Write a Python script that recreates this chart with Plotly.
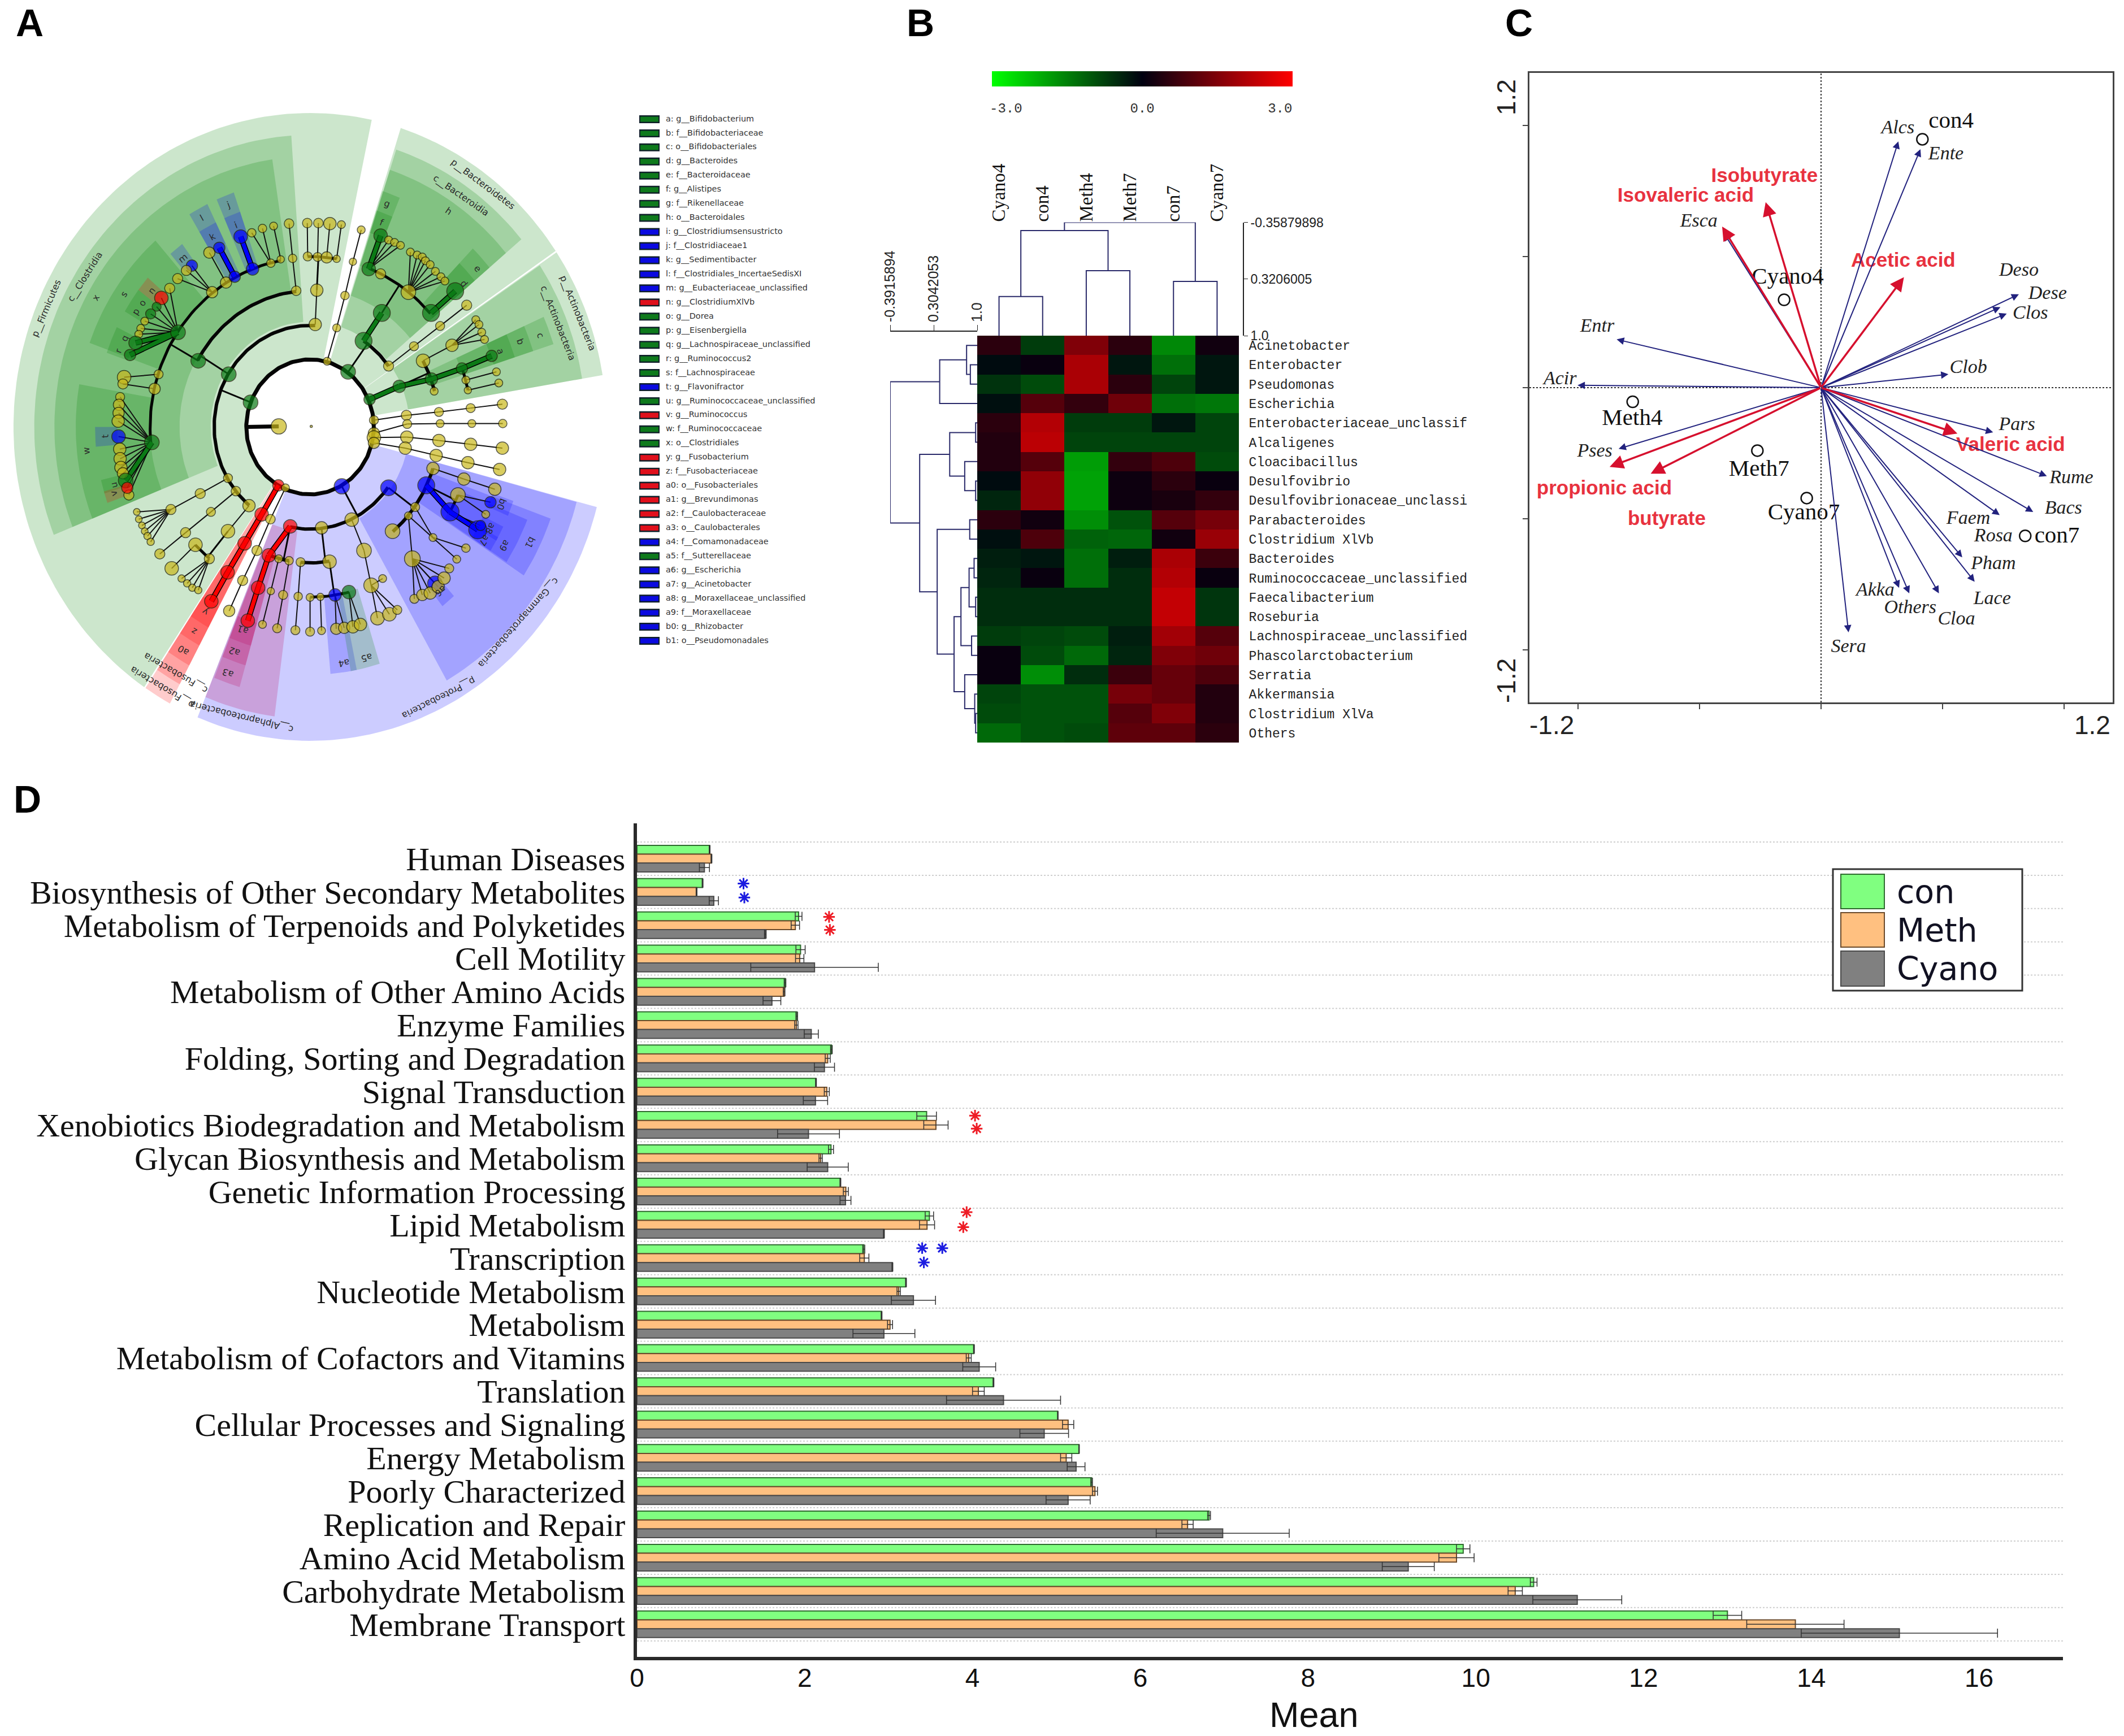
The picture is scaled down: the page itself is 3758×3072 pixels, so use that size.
import math
import plotly.graph_objects as go

W, H = 3758, 3072
SERIF, SANS, MONO, DEJAVU = "Liberation Serif", "Liberation Sans", "Liberation Mono", "DejaVu Sans"

# ---------- Panel D data ----------
pathways = ["Human Diseases", "Biosynthesis of Other Secondary Metabolites", "Metabolism of Terpenoids and Polyketides",
            "Cell Motility", "Metabolism of Other Amino Acids", "Enzyme Families", "Folding, Sorting and Degradation",
            "Signal Transduction", "Xenobiotics Biodegradation and Metabolism", "Glycan Biosynthesis and Metabolism",
            "Genetic Information Processing", "Lipid Metabolism", "Transcription", "Nucleotide Metabolism", "Metabolism",
            "Metabolism of Cofactors and Vitamins", "Translation", "Cellular Processes and Signaling", "Energy Metabolism",
            "Poorly Characterized", "Replication and Repair", "Amino Acid Metabolism", "Carbohydrate Metabolism",
            "Membrane Transport"]
con_mean = [.866, .782, 1.927, 1.95, 1.765, 1.905, 2.318, 2.134, 3.453, 2.313, 2.425, 3.486, 2.704, 3.207, 2.916, 4.017,
            4.25, 5.017, 5.27, 5.42, 6.82, 9.85, 10.69, 13.0]
meth_mean = [.888, .71, 1.888, 1.94, 1.754, 1.9, 2.274, 2.263, 3.564, 2.19, 2.49, 3.458, 2.71, 3.12, 3.017, 3.955,
             4.07, 5.14, 5.117, 5.46, 6.564, 9.77, 10.47, 13.81]
cyano_mean = [.804, .916, 1.53, 2.117, 1.609, 2.078, 2.235, 2.128, 2.045, 2.274, 2.486, 2.944, 3.045, 3.296, 2.944, 4.08,
              4.37, 4.855, 5.235, 5.14, 6.983, 9.195, 11.21, 15.05]
con_err = [.005, .005, .04, .055, .01, .01, .01, .005, .117, .03, .005, .05, .012, .005, .005, .005,
           .005, .003, .003, .01, .017, .08, .04, .17]
meth_err = [.005, .005, .05, .05, .01, .02, .03, .03, .145, .02, .03, .09, .055, .02, .03, .03,
            .07, .067, .067, .03, .067, .21, .085, .58]
cyano_err = [.06, .055, .01, .76, .106, .084, .12, .145, .369, .245, .065, .005, .005, .263, .369, .196,
             .68, .29, .106, .263, .793, .31, .53, 1.17]
star_x = [1.27, 1.28, 2.29, 2.30, 4.03, 4.05, 3.93, 3.89, 3.40, 3.64, 3.42]
star_y = [.75, 1.17, 1.75, 2.14, 7.72, 8.11, 10.62, 11.07, 11.70, 11.70, 12.13]
star_c = ["#1C1CE0", "#1C1CE0", "#EE1C25", "#EE1C25", "#EE1C25", "#EE1C25", "#EE1C25", "#EE1C25", "#1C1CE0", "#1C1CE0", "#1C1CE0"]
group_names = ["con", "Meth", "Cyano"]
group_fill = ["#80FF80", "#FFC080", "#808080"]
group_edge = ["#2F6B2F", "#6B4A2A", "#4A4A4A"]

# ---------- Panel B data ----------
samples = ["Cyano4", "con4", "Meth4", "Meth7", "con7", "Cyano7"]
genera = ["Acinetobacter", "Enterobacter", "Pseudomonas", "Escherichia", "Enterobacteriaceae_unclassif", "Alcaligenes",
          "Cloacibacillus", "Desulfovibrio", "Desulfovibrionaceae_unclassi", "Parabacteroides", "Clostridium XlVb",
          "Bacteroides", "Ruminococcaceae_unclassified", "Faecalibacterium", "Roseburia", "Lachnospiraceae_unclassified",
          "Phascolarctobacterium", "Serratia", "Akkermansia", "Clostridium XlVa", "Others"]
heat = [[.5, -.7, 1.5, .5, -1.6, .2], [-.13, .1, 2.0, -.26, -1.3, -.26], [-.6, -.88, 2.0, .5, -.8, -.26],
        [-.18, 1.0, .6, 1.3, -1.3, -1.4], [.5, 2.1, -.7, -.7, -.26, -.8], [.4, 2.2, -.8, -.8, -.8, -.8],
        [.4, 1.0, -1.85, .6, .9, -.88], [-.13, 1.7, -1.9, .15, .5, .1], [-.44, 1.7, -1.9, .15, .3, .6],
        [.5, .2, -1.67, -.97, 1.0, 1.4], [-.18, .9, -1.15, -1.2, .2, 1.8], [-.35, -.26, -1.3, -.35, 2.0, .7],
        [-.44, .1, -1.3, -.53, 2.1, .1], [-.53, -.53, -.53, -.53, 2.3, -.62], [-.53, -.53, -.53, -.53, 2.3, -.62],
        [-.7, -.8, -.88, -.35, 1.9, 1.0], [.1, -.88, -1.23, -.44, 1.5, 1.3], [.1, -1.67, -.53, .7, 1.2, .9],
        [-.8, -.97, -.97, 1.4, 1.2, .4], [-.88, -.97, -.97, 1.0, 1.5, .4], [-1.23, -.97, -.88, 1.1, 1.1, .5]]
col_merge_a = [0, 2, 4, 6, 9]
col_merge_b = [1, 3, 5, 7, 8]
col_merge_h = [.53, .22, .35, -.26, -.35879898]
row_merge_a = [1, 0, 3, 4, 7, 6, 24, 9, 11, 13, 29, 15, 31, 19, 18, 17, 33, 28, 27, 23]
row_merge_b = [2, 21, 22, 5, 8, 25, 26, 10, 12, 14, 30, 16, 32, 20, 34, 35, 36, 37, 38, 39]
row_merge_h = [.89, .83, .40, .975, .975, .80, .56, .88, .95, .975, .87, .91, .74, .975, .96, .80, .63, .36, .08, -.3915894]

# ---------- Panel C data ----------
species = ["Alcs", "Ente", "Deso", "Dese", "Clos", "Clob", "Pars", "Rume", "Bacs", "Faem", "Pham", "Lace", "Cloa",
           "Others", "Akka", "Sera", "Pses", "Acir", "Entr", "Esca"]
species_x = [.318, .409, .814, .738, .764, .524, .708, .929, .873, .735, .581, .632, .485, .363, .321, .113, -.833, -1.002, -.841, -.399]
species_y = [.939, .909, .356, .307, .282, .051, -.17, -.337, -.474, -.486, -.647, -.74, -.784, -.784, -.763, -.933, -.233, .009, .184, .588]
species_label = species + ["Rosa"]
species_label_x = [.316, .514, .814, .932, .861, .606, .806, 1.03, .997, .606, .709, .704, .557, .367, .223, .113, -.931, -1.074, -.921, -.503, .709]
species_label_y = [.988, .888, .444, .356, .282, .075, -.144, -.346, -.463, -.5, -.674, -.807, -.884, -.842, -.775, -.991, -.244, .032, .232, .632, -.568]
acids = ["Isobutyrate", "Isovaleric acid", "Acetic acid", "Valeric acid", "propionic acid", "butyrate"]
acid_x = [-.228, -.407, .341, .561, -.87, -.701]
acid_y = [.707, .614, .421, -.175, -.302, -.328]
acid_label_x = [-.233, -.557, .338, .78, -.892, -.635]
acid_label_y = [.802, .728, .479, -.223, -.389, -.504]
sites = ["con4", "Cyano4", "Meth4", "Meth7", "Cyano7", "con7"]
site_x = [.417, -.152, -.775, -.262, -.059, .84]
site_y = [.947, .335, -.054, -.24, -.421, -.565]
site_label_x = [.535, -.137, -.777, -.255, -.071, .971]
site_label_y = [1.014, .418, -.121, -.314, -.479, -.568]

# ---------- Panel A data ----------
legend_names = ["a: g__Bifidobacterium", "b: f__Bifidobacteriaceae", "c: o__Bifidobacteriales", "d: g__Bacteroides",
                "e: f__Bacteroidaceae", "f: g__Alistipes", "g: f__Rikenellaceae", "h: o__Bacteroidales",
                "i: g__Clostridiumsensustricto", "j: f__Clostridiaceae1", "k: g__Sedimentibacter",
                "l: f__Clostridiales_IncertaeSedisXI", "m: g__Eubacteriaceae_unclassified", "n: g__ClostridiumXlVb",
                "o: g__Dorea", "p: g__Eisenbergiella", "q: g__Lachnospiraceae_unclassified", "r: g__Ruminococcus2",
                "s: f__Lachnospiraceae", "t: g__Flavonifractor", "u: g__Ruminococcaceae_unclassified", "v: g__Ruminococcus",
                "w: f__Ruminococcaceae", "x: o__Clostridiales", "y: g__Fusobacterium", "z: f__Fusobacteriaceae",
                "a0: o__Fusobacteriales", "a1: g__Brevundimonas", "a2: f__Caulobacteraceae", "a3: o__Caulobacterales",
                "a4: f__Comamonadaceae", "a5: f__Sutterellaceae", "a6: g__Escherichia", "a7: g__Acinetobacter",
                "a8: g__Moraxellaceae_unclassified", "a9: f__Moraxellaceae", "b0: g__Rhizobacter", "b1: o__Pseudomonadales"]
legend_kind = list("GGGGGGGGBBBBBRGGGGGBGRGGRRRRRRBGBBBBBB")

clade_start = [78, 34.1, 9.5, 247.7, 236.3,
               93.9, 40, 9.5, 299.7, 247.7, 236.3,
               98.5, 40, 17.8, 236.3, 248, 326.7,
               170.1, 131.3, 109, 116, 17.8, 67.5, 40, 236.3, 248, 275, 280, 327,
               180, 109, 116, 126.5, 139, 143, 146.5, 154, 157.5, 193.5, 196.5, 17.8, 67.5, 40, 236.3, 248, 337, 308, 327, 330]
clade_end = [236, 72.2, 33.8, 345.2, 241.8,
             201.7, 71.8, 33.6, 345.1, 262.6, 241.8,
             201.7, 71.8, 24, 241.8, 254, 340.2,
             201.7, 160.2, 113.5, 121, 24, 72, 46, 241.8, 254, 281.5, 287.3, 338,
             185, 113.5, 121, 130.5, 143, 146.5, 149.5, 157.5, 161, 197, 199.5, 24, 72, 46, 241.8, 254, 341, 312, 331, 334]
clade_rank = ["p"] * 5 + ["c"] * 6 + ["o"] * 6 + ["f"] * 12 + ["g"] * 20
clade_kind = list("GGGBR" "GGGBPR" "GGGRPB" "GGBBGGGRPBGB" "BBBBRGGGGGRGGGRPBBBB")
rank_inner = {"p": .22, "c": .335, "o": .44, "f": .54, "g": .65}
rank_outer = {"p": 1.0, "c": .93, "o": .862, "f": .79, "g": .725}

clade_text = ["a", "b", "c", "d", "e", "f", "g", "h", "i", "j", "k", "l", "m", "n", "o", "p", "q", "r", "s", "t", "u", "v", "w", "x",
              "y", "z", "a0", "a1", "a2", "a3", "a4", "a5", "a6", "a7", "a8", "a9", "b0", "b1",
              "p__Firmicutes", "c__Clostridia", "p__Bacteroidetes", "c__Bacteroidia", "p__Actinobacteria", "c__Actinobacteria",
              "c__Gammaproteobacteria", "p__Proteobacteria", "c__Alphaproteobacteria", "p__Fusobacteria", "c__Fusobacteria"]
clade_text_angle = [20.6, 21, 20.6, 41.4, 41.7, 69.7, 69.9, 55.8, 111.3, 111.3, 118.4, 118.7, 128.5, 140.9, 145, 148, 155.7, 159.4, 146, 182.5, 195.6, 197.8, 185.8, 150.3,
                    239, 239, 239, 250.6, 250.4, 250.6, -81.4, -75.5, -49.9, -31.6, -28, -29.9, -20.9, -26.4,
                    157, 147.8, 53, 55.4, 21.9, 21.6, -41.6, -63.3, 256, 239, 240]
clade_text_r = [.686, .76, .83, .691, .757, .694, .758, .832, .69, .76, .69, .759, .687, .689, .689, .693, .685, .69, .757, .692, .687, .695, .759, .831,
                .687, .76, .83, .685, .76, .832, .76, .76, .684, .69, .689, .756, .691, .829,
                .966, .896, .968, .896, .972, .899, .939, .965, .952, .967, .904]

# name, parent, x, y, diameter, kind (tree units)
tree_nodes = [
    ("root", None, 703, 883, 27, "Y"), ("mid", None, 785, 883, 4, "Y"),
    ("firm", "root", 632, 833, 26, "G"), ("p3", "root", 825, 748, 14, "Y"), ("bact", "root", 878, 770, 26, "G"),
    ("acti", "root", 932, 827, 20, "G"), ("u1", "root", 943, 870, 16, "Y"), ("u2", "root", 943, 897, 20, "Y"),
    ("u3", "root", 943, 906, 24, "Y"), ("u4", "root", 943, 917, 20, "Y"), ("prot", "root", 862, 1007, 27, "B"),
    ("fuso", "root", 702, 1005, 20, "R"), ("p11", "root", 720, 1010, 14, "Y"),
    # unclassified chains on the right
    ("u1a", "u1", 1025, 860, 18, "Y"), ("u1b", "u1a", 1107, 853, 16, "Y"), ("u1c", "u1b", 1187, 845, 16, "Y"), (None, "u1c", 1267, 837, 18, "Y"),
    ("u2a", "u2", 1027, 878, 16, "Y"), ("u2b", "u2a", 1110, 877, 14, "Y"), ("u2c", "u2b", 1190, 877, 14, "Y"), (None, "u2c", 1268, 877, 15, "Y"),
    ("u3a", "u3", 1026, 905, 22, "Y"), ("u3b", "u3a", 1107, 912, 22, "Y"), ("u3c", "u3b", 1187, 920, 22, "Y"), (None, "u3c", 1267, 928, 22, "Y"),
    ("u4a", "u4", 1022, 928, 22, "Y"), ("u4b", "u4a", 1100, 943, 22, "Y"), ("u4c", "u4b", 1180, 958, 22, "Y"), (None, "u4c", 1260, 972, 22, "Y"),
    # narrow chain at the top
    ("p3a", "p3", 849, 679, 14, "Y"), ("p3b", "p3a", 870, 612, 15, "Y"), ("p3c", "p3b", 890, 542, 13, "Y"), (None, "p3c", 911, 476, 14, "Y"),
    # Firmicutes
    ("f1", "firm", 795, 672, 22, "Y"), ("f2", "firm", 577, 775, 26, "G"), ("f3", "firm", 575, 990, 16, "Y"), ("f4", "firm", 595, 1017, 17, "Y"), ("f5", "firm", 628, 1047, 22, "Y"),
    ("f1a", "f1", 799, 601, 22, "Y"), ("f1b", "f1a", 776, 531, 16, "Y"), ("f1c", "f1a", 801, 532, 16, "Y"), ("f1d", "f1a", 824, 533, 20, "Y"), ("f1e", "f1a", 849, 536, 13, "Y"),
    (None, "f1b", 775, 462, 17, "Y"), (None, "f1c", 803, 462, 17, "Y"), (None, "f1d", 832, 463, 22, "Y"), (None, "f1e", 861, 465, 14, "Y"),
    ("f2a", "f2", 747, 602, 17, "Y"), ("clos", "f2", 500, 747, 26, "G"), ("f2b", "f2a", 738, 535, 15, "Y"), (None, "f2b", 729, 463, 17, "Y"),
    ("l1", "clos", 535, 605, 20, "Y"), ("lach", "clos", 449, 688, 26, "G"), ("l2", "clos", 400, 775, 16, "Y"), ("l3", "clos", 390, 805, 20, "Y"), ("rumi", "clos", 383, 916, 26, "G"),
    ("l4", "clos", 570, 585, 20, "Y"), ("l5", "clos", 592, 573, 20, "B"), ("l6", "clos", 637, 557, 22, "B"), ("l7", "clos", 683, 545, 15, "Y"), ("l8", "clos", 708, 537, 13, "Y"),
    (None, "l4", 528, 523, 20, "Y"), ("k", "l5", 553, 513, 20, "B"), ("i", "l6", 607, 490, 24, "B"), (None, "l7", 635, 482, 15, "Y"), (None, "l7", 662, 473, 15, "Y"), (None, "l8", 690, 468, 14, "Y"),
    (None, "l1", 484, 550, 20, "B"), (None, "l1", 470, 560, 18, "Y"), (None, "l1", 448, 577, 18, "Y"),
    (None, "lach", 428, 597, 18, "Y"), (None, "lach", 407, 617, 24, "R"), (None, "lach", 395, 635, 16, "G"), (None, "lach", 380, 650, 18, "G"),
    (None, "lach", 365, 665, 14, "Y"), (None, "lach", 355, 680, 14, "Y"), (None, "lach", 350, 692, 14, "Y"), ("q", "lach", 342, 710, 24, "G"), ("r", "lach", 328, 735, 20, "G"),
    (None, "l2", 313, 781, 24, "Y"), (None, "l3", 310, 795, 18, "Y"),
    (None, "rumi", 303, 822, 16, "Y"), (None, "rumi", 300, 838, 20, "Y"), (None, "rumi", 299, 855, 20, "Y"), (None, "rumi", 298, 872, 22, "Y"), (None, "rumi", 299, 904, 24, "B"),
    (None, "rumi", 302, 930, 22, "Y"), (None, "rumi", 303, 950, 22, "Y"), (None, "rumi", 305, 968, 22, "Y"), (None, "rumi", 310, 980, 20, "Y"), ("u", "rumi", 317, 995, 26, "G"),
    (None, "rumi", 325, 1025, 18, "Y"), (None, "rumi", 321, 1010, 20, "R"),
    ("f3a", "f3", 505, 1022, 18, "Y"), ("f3b", "f3a", 431, 1055, 18, "Y"),
    (None, "f3b", 345, 1060, 12, "Y"), (None, "f3b", 350, 1075, 12, "Y"), (None, "f3b", 358, 1088, 12, "Y"), (None, "f3b", 365, 1100, 12, "Y"), (None, "f3b", 372, 1110, 13, "Y"), (None, "f3b", 380, 1122, 13, "Y"),
    ("f4a", "f4", 532, 1060, 16, "Y"), ("f4b", "f4a", 468, 1103, 18, "Y"), (None, "f4b", 403, 1147, 18, "Y"),
    ("f5a", "f5", 575, 1100, 24, "Y"), ("f5b", "f5a", 493, 1128, 24, "Y"), (None, "f5b", 433, 1177, 24, "Y"), ("f5c", "f5a", 528, 1157, 18, "Y"),
    (None, "f5c", 458, 1198, 13, "Y"), (None, "f5c", 472, 1208, 13, "Y"), (None, "f5c", 485, 1217, 13, "Y"), (None, "f5c", 500, 1222, 13, "Y"),
    # Fusobacteria
    ("r1", "fuso", 660, 1065, 24, "R"), ("r2", "r1", 617, 1125, 24, "R"), ("r3", "r2", 574, 1185, 24, "R"), ("r4", "r3", 533, 1245, 24, "R"),
    ("p11a", "p11", 682, 1075, 17, "Y"), ("p11b", "p11a", 648, 1140, 18, "Y"), ("p11c", "p11b", 612, 1202, 18, "Y"), (None, "p11c", 578, 1265, 20, "Y"),
    # Proteobacteria
    ("alph", "prot", 732, 1090, 24, "R"), ("pb", "prot", 811, 1093, 22, "Y"), ("pc", "prot", 887, 1076, 24, "Y"), ("gamm", "prot", 980, 1010, 28, "B"),
    ("al1", "alph", 678, 1150, 24, "R"), ("al2", "alph", 703, 1157, 14, "Y"), ("al3", "alph", 729, 1161, 15, "Y"),
    ("al1a", "al1", 651, 1217, 24, "R"), ("al1b", "al1a", 625, 1285, 24, "R"), ("al2a", "al2", 683, 1224, 13, "Y"), (None, "al2a", 662, 1293, 14, "Y"), ("al3a", "al3", 714, 1232, 16, "Y"), (None, "al3a", 699, 1301, 16, "Y"),
    ("pb1", "pb", 758, 1164, 16, "Y"), ("pb2", "pb", 831, 1163, 24, "Y"), ("pb1a", "pb1", 752, 1235, 15, "Y"), (None, "pb1a", 745, 1305, 16, "Y"),
    ("pb3", "pb2", 782, 1237, 14, "Y"), ("pb4", "pb2", 808, 1236, 13, "Y"), ("a4n", "pb2", 845, 1232, 22, "B"), ("a5n", "pb2", 880, 1226, 24, "G"),
    (None, "pb3", 782, 1308, 16, "Y"), (None, "pb4", 811, 1306, 14, "Y"), (None, "a4n", 848, 1302, 20, "Y"), (None, "a4n", 868, 1300, 20, "Y"), (None, "a5n", 890, 1298, 22, "Y"), (None, "a5n", 909, 1293, 22, "Y"),
    ("pc1", "pc", 918, 1140, 26, "Y"), ("pc2", "pc1", 936, 1212, 26, "Y"), (None, "pc2", 965, 1198, 14, "Y"), (None, "pc2", 952, 1280, 24, "Y"), (None, "pc2", 982, 1272, 24, "Y"), (None, "pc2", 1002, 1263, 16, "Y"),
    ("pseu", "gamm", 1075, 1005, 30, "B"), ("g2", "gamm", 1047, 1050, 16, "Y"), ("g3", "gamm", 1030, 1068, 14, "Y"), ("g4", "gamm", 990, 1100, 26, "Y"), ("g5", "gamm", 1092, 970, 22, "Y"),
    ("g5a", "g5", 1170, 992, 22, "Y"), (None, "g5a", 1248, 1013, 22, "Y"),
    ("rhiz", "pseu", 1155, 1025, 26, "Y"), ("mora", "pseu", 1135, 1060, 32, "B"),
    ("ac", "mora", 1205, 1097, 32, "B"), (None, "mora", 1212, 1088, 18, "B"), (None, "rhiz", 1237, 1040, 20, "B"), (None, "rhiz", 1225, 1065, 14, "Y"),
    ("g2a", "g2", 1092, 1113, 14, "Y"), (None, "g2a", 1175, 1135, 15, "Y"), ("g3a", "g3", 1040, 1157, 28, "Y"), (None, "g3", 1152, 1158, 14, "Y"),
    (None, "g3a", 1097, 1208, 26, "B"), (None, "g3a", 1045, 1240, 16, "Y"), (None, "g3a", 1065, 1232, 20, "Y"), (None, "g3a", 1085, 1228, 22, "Y"),
    (None, "g3a", 1105, 1215, 22, "Y"), (None, "g3a", 1120, 1197, 22, "Y"), (None, "g3a", 1133, 1177, 16, "Y"),
    # Bacteroidetes
    ("b1", "bact", 917, 706, 30, "G"), ("b2", "bact", 980, 758, 18, "Y"), ("b3", "b1", 963, 648, 30, "G"),
    ("b2a", "b2", 1044, 717, 16, "Y"), ("b2b", "b2a", 1110, 675, 16, "Y"), (None, "b2b", 1177, 632, 18, "Y"),
    ("b4", "b3", 930, 557, 24, "G"), ("b5", "b3", 960, 567, 18, "Y"), ("b6", "b3", 1030, 605, 26, "Y"), ("b7", "b3", 1087, 648, 30, "G"),
    ("b8", "b4", 960, 488, 24, "G"), (None, "b4", 980, 497, 14, "Y"), (None, "b4", 995, 502, 14, "Y"), (None, "b4", 1010, 508, 14, "Y"),
    (None, "b6", 1035, 522, 14, "Y"), (None, "b6", 1052, 528, 14, "Y"), (None, "b6", 1065, 532, 14, "Y"), (None, "b6", 1073, 540, 14, "Y"),
    (None, "b6", 1085, 548, 14, "Y"), (None, "b6", 1098, 562, 14, "Y"), (None, "b6", 1112, 573, 14, "Y"), (None, "b6", 1122, 582, 14, "Y"),
    ("b9", "b7", 1148, 603, 30, "G"),
    # Actinobacteria
    ("a1", "acti", 1007, 800, 22, "G"), ("a2", "a1", 1088, 785, 22, "G"), ("a3", "a1", 1067, 747, 24, "Y"), (None, "a1", 1095, 810, 14, "Y"),
    ("a4", "a2", 1165, 763, 20, "G"), ("a5", "a2", 1175, 787, 14, "Y"), ("a6", "a2", 1180, 808, 13, "Y"), ("a8", "a4", 1240, 737, 20, "G"),
    (None, "a5", 1252, 770, 14, "Y"), (None, "a6", 1258, 793, 14, "Y"), ("a9", "a3", 1140, 715, 22, "Y"),
    (None, "a9", 1200, 662, 14, "Y"), (None, "a9", 1208, 672, 14, "Y"), (None, "a9", 1215, 688, 14, "Y"), (None, "a9", 1222, 703, 14, "Y"),
]
tree_thick = ["b3", "b8", "b9", "a1", "a2", "a4", "a8", "q", "r", "u", "k", "i", "r1", "r2", "r3", "r4", "al1", "al1a", "al1b", "ac", "mora"]


def xd(a, b):
    return [a / W, b / W]


def yd(top, bot):
    return [1 - bot / H, 1 - top / H]


fig = go.Figure()
TREE_CX, TREE_CY, TREE_RX, TREE_RY = 782, 884, 748, 650
KIND_NODE = {"Y": "#C9B81C", "G": "#0B7A15", "B": "#0000FF", "R": "#FF0000"}
KIND_WEDGE = {"G": "rgba(0,128,0,0.2)", "B": "rgba(0,0,255,0.2)", "R": "rgba(255,0,0,0.2)", "P": "rgba(190,10,90,0.22)"}


def tree_xy(r, deg):
    return TREE_CX + TREE_RX * r * math.cos(math.radians(deg)), TREE_CY - TREE_RY * r * math.sin(math.radians(deg))


def arc_pts(r, a0, a1):
    n = max(2, int(abs(a1 - a0) / 1.5) + 2)
    return [tree_xy(r, a0 + (a1 - a0) * k / (n - 1)) for k in range(n)]


# wedges
for a0, a1, rank, kind in zip(clade_start, clade_end, clade_rank, clade_kind):
    pts = arc_pts(rank_outer[rank], a0, a1) + arc_pts(rank_inner[rank], a1, a0)
    fig.add_trace(go.Scatter(x=[p[0] for p in pts], y=[p[1] for p in pts], mode="lines", fill="toself",
                             fillcolor=KIND_WEDGE[kind], line=dict(width=0), xaxis="x2", yaxis="y2",
                             hoverinfo="skip", showlegend=False))

# tree edges
by_name = {n[0]: n for n in tree_nodes if n[0]}
polar = {}
for n in tree_nodes:
    dx, dy = (n[2] - TREE_CX) / TREE_RX, (TREE_CY - n[3]) / TREE_RY
    polar[id(n)] = (math.hypot(dx, dy), math.degrees(math.atan2(dy, dx)))
children = {}
for n in tree_nodes:
    if n[1]:
        children.setdefault(n[1], []).append(n)

thin = ([], [])
heavy = {}


def add_seg(buf, pts):
    for p in pts:
        buf[0].append(p[0])
        buf[1].append(p[1])
    buf[0].append(None)
    buf[1].append(None)


for pname, kids in children.items():
    par = by_name[pname]
    rp, tp = polar[id(par)]
    if pname == "root":
        add_seg(heavy.setdefault(7, ([], [])), arc_pts(.215, 0, 360))
        add_seg(heavy[7], [(par[2], par[3]), tree_xy(.215, 180)])
        continue
    rk = [polar[id(k)][0] for k in kids]
    if len(kids) >= 2 and max(rk) < .6:
        rc = sum(rk) / len(rk)
        angs = [tp + ((polar[id(k)][1] - tp + 180) % 360 - 180) for k in kids] + [tp]
        w = 6 if rc < .5 else 5
        add_seg(heavy.setdefault(w, ([], [])), arc_pts(rc, min(angs), max(angs)))
        add_seg(heavy.setdefault(3, ([], [])), [(par[2], par[3]), tree_xy(rc, tp)])
    else:
        for k in kids:
            add_seg(thin, [(par[2], par[3]), (k[2], k[3])])

fig.add_trace(go.Scatter(x=thin[0], y=thin[1], mode="lines", line=dict(color="#111111", width=2), xaxis="x2", yaxis="y2",
                         hoverinfo="skip", showlegend=False))
for w, buf in heavy.items():
    fig.add_trace(go.Scatter(x=buf[0], y=buf[1], mode="lines", line=dict(color="#050505", width=w), xaxis="x2", yaxis="y2",
                             hoverinfo="skip", showlegend=False))
for kind in "GBR":
    bx, by = [], []
    for nm in tree_thick:
        k = by_name[nm]
        if k[5] == kind:
            p = by_name[k[1]]
            bx += [None, p[2], k[2]]
            by += [None, p[3], k[3]]
    fig.add_trace(go.Scatter(x=bx, y=by, mode="lines", line=dict(color="#000000", width=10), xaxis="x2", yaxis="y2",
                             hoverinfo="skip", showlegend=False))
    fig.add_trace(go.Scatter(x=bx, y=by, mode="lines", line=dict(color=KIND_NODE[kind], width=7), xaxis="x2", yaxis="y2",
                             hoverinfo="skip", showlegend=False))
fig.add_trace(go.Scatter(x=[n[2] for n in tree_nodes], y=[n[3] for n in tree_nodes], mode="markers",
                         marker=dict(size=[n[4] for n in tree_nodes], color=[KIND_NODE[n[5]] for n in tree_nodes],
                                     line=dict(color="#1A1A00", width=1.5)),
                         xaxis="x2", yaxis="y2", hoverinfo="skip", showlegend=False))

annotations = []
for txt, ang, r in zip(clade_text, clade_text_angle, clade_text_r):
    px_, py_ = tree_xy(r, ang)
    annotations.append(dict(x=px_, y=py_, xref="x2", yref="y2", text=txt, showarrow=False, textangle=90 - ang,
                            font=dict(family=DEJAVU, size=16, color="#2A2A2A")))

# Panel A legend
rows = list(range(len(legend_names)))
bx, by = [], []
for i in rows:
    bx += [31, 67, None]
    by += [i, i, None]
fig.add_trace(go.Scatter(x=bx, y=by, mode="lines", line=dict(color="#10202A", width=14), xaxis="x3", yaxis="y3",
                         hoverinfo="skip", showlegend=False))
for kind, col in (("G", "#0E7A1C"), ("B", "#0A0AE0"), ("R", "#E0101C")):
    bx, by = [], []
    for i in rows:
        if legend_kind[i] == kind:
            bx += [33, 65, None]
            by += [i, i, None]
    fig.add_trace(go.Scatter(x=bx, y=by, mode="lines", line=dict(color=col, width=9), xaxis="x3", yaxis="y3",
                             hoverinfo="skip", showlegend=False))
fig.add_trace(go.Scatter(x=[78] * len(rows), y=rows, mode="text", text=legend_names, textposition="middle right",
                         textfont=dict(family=DEJAVU, size=14.4, color="#333333"), xaxis="x3", yaxis="y3",
                         hoverinfo="skip", showlegend=False))

# Panel B
fig.add_trace(go.Heatmap(z=heat, x=list(range(6)), y=list(range(21)), zmin=-3, zmax=3,
                         colorscale=[[0, "#00FF00"], [.5, "#000010"], [1, "#FF0000"]], xaxis="x4", yaxis="y4",
                         hoverinfo="skip", xgap=0, ygap=0,
                         colorbar=dict(orientation="h", x=1755 / W, xanchor="left", y=1 - 126 / H, yanchor="top",
                                       lenmode="pixels", len=532, thicknessmode="pixels", thickness=27, xpad=0, ypad=0,
                                       outlinewidth=0, tickvals=[-2.72, 0, 2.75], ticktext=["-3.0", "0.0", "3.0"],
                                       ticks="outside", ticklen=18, tickcolor="white",
                                       tickfont=dict(family=MONO, size=24, color="#333333"))))


def dendro(merge_a, merge_b, merge_h, n_leaves, leaf_h):
    pos = {i: (float(i), leaf_h) for i in range(n_leaves)}
    px_, hs = [], []
    for j, (a, b, h) in enumerate(zip(merge_a, merge_b, merge_h)):
        pa, ha = pos[a]
        pb, hb = pos[b]
        px_ += [pa, pa, pb, pb, None]
        hs += [ha, h, h, hb, None]
        pos[n_leaves + j] = ((pa + pb) / 2, h)
    return px_, hs


NAVY = "#2A2A6A"
dx_, dy_ = dendro(col_merge_a, col_merge_b, col_merge_h, 6, 1.0)
fig.add_trace(go.Scatter(x=dx_, y=dy_, mode="lines", line=dict(color=NAVY, width=2), xaxis="x5", yaxis="y5",
                         hoverinfo="skip", showlegend=False))
dx_, dy_ = dendro(row_merge_a, row_merge_b, row_merge_h, 21, 1.0)
fig.add_trace(go.Scatter(x=dy_, y=dx_, mode="lines", line=dict(color=NAVY, width=2), xaxis="x6", yaxis="y6",
                         hoverinfo="skip", showlegend=False))

# Panel C
fig.add_trace(go.Scatter(x=[-1.2, 1.2, None, 0, 0], y=[0, 0, None, -1.2, 1.2], mode="lines",
                         line=dict(color="#333333", width=2, dash="dot"), xaxis="x8", yaxis="y8",
                         hoverinfo="skip", showlegend=False))
for x_, y_ in zip(species_x, species_y):
    annotations.append(dict(x=x_, y=y_, ax=0, ay=0, xref="x8", yref="y8", axref="x8", ayref="y8", text="", showarrow=True,
                            arrowhead=2, arrowsize=1.3, arrowwidth=2, arrowcolor="#22227E", standoff=0))
for x_, y_ in zip(acid_x, acid_y):
    annotations.append(dict(x=x_, y=y_, ax=0, ay=0, xref="x8", yref="y8", axref="x8", ayref="y8", text="", showarrow=True,
                            arrowhead=2, arrowsize=1.4, arrowwidth=3.5, arrowcolor="#D6102E", standoff=0))
fig.add_trace(go.Scatter(x=species_label_x, y=species_label_y, mode="text", text=species_label,
                         textfont=dict(family=SERIF, size=34, color="#222222", style="italic"),
                         xaxis="x8", yaxis="y8", hoverinfo="skip", showlegend=False))
fig.add_trace(go.Scatter(x=acid_label_x, y=acid_label_y, mode="text", text=acids,
                         textfont=dict(family=SANS, size=35, color="#E8323F", weight="bold"),
                         xaxis="x8", yaxis="y8", hoverinfo="skip", showlegend=False))
fig.add_trace(go.Scatter(x=site_x, y=site_y, mode="markers",
                         marker=dict(size=20, color="rgba(255,255,255,0)", line=dict(color="#111111", width=2.5)),
                         xaxis="x8", yaxis="y8", hoverinfo="skip", showlegend=False))
fig.add_trace(go.Scatter(x=site_label_x, y=site_label_y, mode="text", text=sites,
                         textfont=dict(family=SERIF, size=41, color="#111111"),
                         xaxis="x8", yaxis="y8", hoverinfo="skip", showlegend=False))
for txt, px_, py_, ang in (("-1.2", 2745, 1283, 0), ("1.2", 3702, 1283, 0), ("1.2", 2665, 172, -90), ("-1.2", 2665, 1205, -90)):
    annotations.append(dict(x=px_ / W, y=1 - py_ / H, xref="paper", yref="paper", text=txt, showarrow=False, textangle=ang,
                            xanchor="center", yanchor="middle", font=dict(family=SANS, size=46, color="#222222")))

# Panel D
grid_x, grid_y = [], []
for i in range(len(pathways) + 1):
    grid_x += [0, 17, None]
    grid_y += [i - .5, i - .5, None]
fig.add_trace(go.Scatter(x=grid_x, y=grid_y, mode="lines", line=dict(color="#CFCFCF", width=2, dash="dot"),
                         hoverinfo="skip", showlegend=False))
ypos = list(range(len(pathways)))
for name, vals, errs, fill, edge in zip(group_names, (con_mean, meth_mean, cyano_mean), (con_err, meth_err, cyano_err),
                                        group_fill, group_edge):
    fig.add_trace(go.Bar(name=name, x=vals, y=ypos, orientation="h", marker=dict(color=fill, line=dict(color=edge, width=2)),
                         error_x=dict(type="data", array=errs, symmetric=True, thickness=1.5, width=8, color="#333333"),
                         showlegend=False, hoverinfo="skip"))
fig.add_trace(go.Scatter(x=star_x, y=star_y, mode="markers",
                         marker=dict(symbol="asterisk-open", size=17, color=star_c, line=dict(color=star_c, width=3)),
                         hoverinfo="skip", showlegend=False))

shapes = [dict(type="rect", xref="paper", yref="paper", x0=3243 / W, x1=3578 / W, y0=1 - 1753 / H, y1=1 - 1538 / H,
               fillcolor="white", line=dict(color="#333333", width=3), layer="above")]
for name, fill, edge, top, bot in zip(group_names, group_fill, group_edge, (1547, 1615, 1683), (1608, 1676, 1745)):
    shapes.append(dict(type="rect", xref="paper", yref="paper", x0=3257 / W, x1=3334 / W, y0=1 - bot / H, y1=1 - top / H,
                       fillcolor=fill, line=dict(color=edge, width=2), layer="above"))
    annotations.append(dict(x=3354 / W, y=1 - (top + bot) / 2 / H, xref="paper", yref="paper", xanchor="left", yanchor="middle",
                            text=name, showarrow=False, font=dict(family=DEJAVU, size=57, color="#111122")))
annotations.append(dict(x=2325 / W, y=1 - 3034 / H, xref="paper", yref="paper", text="Mean", showarrow=False,
                        xanchor="center", yanchor="middle", font=dict(family=SANS, size=63, color="#111111")))
for letter, px_, py_ in (("A", 52, 40), ("B", 1628, 40), ("C", 2687, 40), ("D", 48, 1414)):
    annotations.append(dict(x=px_ / W, y=1 - py_ / H, xref="paper", yref="paper", text=letter, showarrow=False,
                            xanchor="center", yanchor="middle",
                            font=dict(family=SANS, size=68, color="#000000", weight="bold")))

hidden = dict(visible=False)
fig.update_layout(
    width=W, height=H, margin=dict(l=0, r=0, t=0, b=0, autoexpand=False), paper_bgcolor="white", plot_bgcolor="white",
    barmode="group", bargap=.2, bargroupgap=0, showlegend=False, annotations=annotations, shapes=shapes,
    xaxis=dict(domain=xd(1127, 3650), range=[0, 17], tickvals=list(range(0, 17, 2)), showgrid=False, zeroline=False,
               showline=True, linecolor="#2A2A2A", linewidth=6, ticks="", ticklabelstandoff=-8,
               tickfont=dict(family=SANS, size=46, color="#111111"), anchor="y"),
    yaxis=dict(domain=yd(1457, 2932), range=[23.98, -1.06], tickvals=ypos, ticktext=pathways, showgrid=False, zeroline=False,
               showline=True, linecolor="#2A2A2A", linewidth=6, ticks="outside", ticklen=3, tickcolor="white",
               tickfont=dict(family=SERIF, size=58, color="#111111"), anchor="x"),
    xaxis2=dict(domain=xd(0, 1100), range=[0, 1568], anchor="y2", **hidden),
    yaxis2=dict(domain=yd(0, 1340), range=[1568, 0], anchor="x2", **hidden),
    xaxis3=dict(domain=xd(1100, 1500), range=[0, 400], anchor="y3", **hidden),
    yaxis3=dict(domain=yd(198.5, 1146.5), range=[37.5, -.5], anchor="x3", **hidden),
    xaxis4=dict(domain=xd(1729, 2192), range=[-.5, 5.5], anchor="y4", showticklabels=False, ticks="", showgrid=False, zeroline=False),
    yaxis4=dict(domain=yd(594, 1314), range=[20.5, -.5], anchor="x4", side="right", tickvals=list(range(21)), ticktext=genera,
                showgrid=False, zeroline=False, ticks="outside", ticklen=12, tickcolor="white",
                tickfont=dict(family=MONO, size=23, color="#222222")),
    xaxis5=dict(domain=xd(1729, 2192), range=[-.5, 5.5], anchor="y5", side="top", tickvals=list(range(6)), ticktext=samples,
                tickangle=-90, showgrid=False, zeroline=False, showline=False, ticks="",
                tickfont=dict(family=SERIF, size=33, color="#111111")),
    yaxis5=dict(domain=yd(393.5, 594), range=[1.0, -.35879898], anchor="free", position=2200 / W, side="right",
                tickvals=[-.35879898, .3206005, 1.0], ticktext=["-0.35879898", "0.3206005", "1.0"], showgrid=False, zeroline=False,
                showline=True, linecolor="#222222", linewidth=2, ticks="outside", ticklen=7, tickcolor="#222222",
                tickfont=dict(family=SANS, size=23, color="#222222")),
    xaxis6=dict(domain=xd(1575, 1729), range=[-.3915894, 1.0], anchor="free", position=1 - 586 / H, side="top",
                tickvals=[-.3915894, .3042053, 1.0], ticktext=["-0.3915894", "0.3042053", "1.0"], tickangle=-90,
                showgrid=False, zeroline=False, showline=True, linecolor="#222222", linewidth=2, ticks="outside", ticklen=10,
                tickcolor="#222222", tickfont=dict(family=SANS, size=25, color="#222222")),
    yaxis6=dict(domain=yd(594, 1314), range=[20.5, -.5], anchor="x6", **hidden),
    xaxis8=dict(domain=xd(2706, 3738), range=[-1.2, 1.2], anchor="y8", tickvals=[-1, -.5, 0, .5, 1], showticklabels=False,
                showgrid=False, zeroline=False, showline=True, mirror=True, linecolor="#444444", linewidth=3, ticks="outside",
                ticklen=9, tickcolor="#444444", tickwidth=2),
    yaxis8=dict(domain=yd(129, 1243), range=[-1.2, 1.2], anchor="x8", tickvals=[-1, -.5, 0, .5, 1], showticklabels=False,
                showgrid=False, zeroline=False, showline=True, mirror=True, linecolor="#444444", linewidth=3, ticks="outside",
                ticklen=9, tickcolor="#444444", tickwidth=2),
)
fig.write_html("out.html", config={"displayModeBar": False}, post_script="document.body.style.margin='0';")
